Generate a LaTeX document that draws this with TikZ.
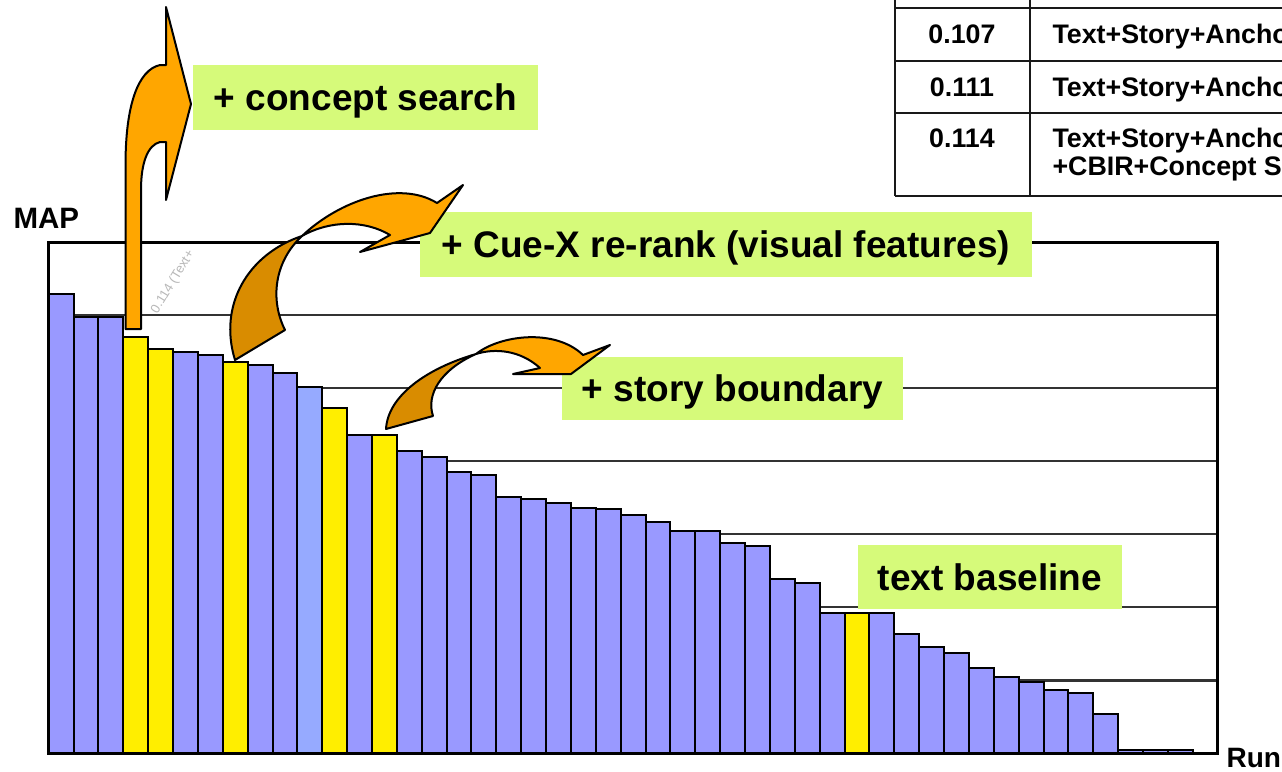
\documentclass[tikz,border=0pt]{standalone}
\usepackage{fontspec}
\setmainfont{Liberation Sans}
\definecolor{barB}{RGB}{153,153,255}
\definecolor{barL}{RGB}{150,170,255}
\definecolor{barY}{RGB}{255,238,0}
\definecolor{labelgreen}{RGB}{214,250,122}
\definecolor{arrowlight}{RGB}{255,166,0}
\definecolor{arrowdark}{RGB}{217,140,0}
\begin{document}
\begin{tikzpicture}[x=1pt,y=-1pt,
  barbox/.style={draw=black, line width=2pt},
  gridrule/.style={draw=black!80, line width=2.2pt},
  framerule/.style={draw=black, line width=3pt},
  tablerule/.style={draw=black!90, line width=2.5pt},
  labelbox/.style={fill=labelgreen, inner sep=0pt, text height=26.5pt, text depth=0pt,
    font=\bfseries\fontsize{37}{40}\selectfont},
  curvearrow/.style={draw=black, line width=2pt, line join=round},
  tabletext/.style={anchor=base, font=\bfseries\fontsize{26.8}{29}\selectfont},
  axistext/.style={anchor=base west, font=\bfseries\fontsize{29.5}{32}\selectfont}
]
% page area
\fill[white] (0,0) rectangle (1282,771);
\clip (0,0) rectangle (1282,771);

% horizontal grid of the chart
\foreach \k in {1,...,6}{
  \pgfmathsetmacro\gy{242+73.07*\k}
  \draw[gridrule] (48.5,\gy) -- (1217,\gy);
}

% faint rotated data label
\node[rotate=58.6, text=black!28, font=\fontsize{13}{13}\selectfont, inner sep=0pt] (faintlabel) at (173,282) {0.114 (Text+};

% bars: index / top edge / fill
\foreach \i/\t/\c in {0/294/barB,1/317/barB,2/317/barB,3/337/barY,4/349/barY,5/352/barB,
  6/355/barB,7/362/barY,8/365/barB,9/373/barB,10/387/barL,11/408/barY,12/435/barB,
  13/435/barY,14/451/barB,15/457/barB,16/472/barB,17/475/barB,18/497/barB,19/499/barB,
  20/503/barB,21/508/barB,22/509/barB,23/515/barB,24/522/barB,25/531/barB,26/531/barB,
  27/543/barB,28/546/barB,29/579/barB,30/583/barB,31/613/barB,32/613/barY,33/613/barB,
  34/634/barB,35/647/barB,36/653/barB,37/668/barB,38/677/barB,39/682/barB,40/690/barB,
  41/693/barB,42/714/barB,43/750/barB,44/750/barB,45/750/barB}{
  \pgfmathsetmacro\xl{48.7+24.87*\i}
  \pgfmathsetmacro\xr{\xl+24.87}
  \draw[barbox, fill=\c] (\xl,753.5) rectangle (\xr,\t);
}

% chart frame
\draw[framerule] (48.5,242) rectangle (1217,753.5);

% axis captions
\node[axistext] (maplabel) at (10,228) {MAP};
\node[axistext, font=\bfseries\fontsize{28}{30}\selectfont] (runlabel) at (1223,767) {Run};

% results table (top right)
\draw[tablerule] (895,-2) -- (895,196);
\draw[tablerule] (1030,-2) -- (1030,196);
\draw[tablerule] (895,8) -- (1290,8);
\draw[tablerule] (895,61) -- (1290,61);
\draw[tablerule] (895,113) -- (1290,113);
\draw[tablerule] (895,196) -- (1290,196);
\node[tabletext] (mapa) at (962,43.5) {0.107};
\node[tabletext] (mapb) at (962,96) {0.111};
\node[tabletext] (mapc) at (962,147.6) {0.114};
\node[tabletext, anchor=base west] (runa) at (1049,43.5) {Text+Story+Anchor};
\node[tabletext, anchor=base west] (runb) at (1049,96) {Text+Story+Anchor};
\node[tabletext, anchor=base west] (runc) at (1049,147.6) {Text+Story+Anchor};
\node[tabletext, anchor=base west] (rund) at (1049,175.6) {+CBIR+Concept Search};

% annotation labels
\node[labelbox, minimum width=345pt, minimum height=65pt] (conceptlabel) at (365.5,97.5) {+ concept search};
\node[labelbox, minimum width=612pt, minimum height=65pt] (cuexlabel) at (726,244.5) {+ Cue-X re-rank (visual features)};
\node[labelbox, minimum width=341pt, minimum height=63pt] (storylabel) at (732.5,388.5) {+ story boundary};
\node[labelbox, minimum width=264pt, minimum height=64pt] (baselinelabel) at (990,577) {text baseline};

% rising arrow to the concept search label
\draw[curvearrow, fill=arrowlight]
  (125.5,329) -- (125.5,165) .. controls (125.5,105) and (138,70) .. (160,65)
  -- (166,65) -- (166,7) -- (191,104) -- (166,200) -- (166,142) -- (160,142)
  .. controls (148,145) and (141,162) .. (141,190) -- (141,329) -- cycle;

% twisted arrow to the Cue-X label
\draw[curvearrow, fill=arrowdark]
  (302,236) .. controls (248,254) and (218,305) .. (235,360) -- (285,330)
  .. controls (270,300) and (274,262) .. (302,236) -- cycle;
\draw[curvearrow, fill=arrowlight]
  (302,236) .. controls (340,200) and (400,180) .. (437,203) -- (463,185)
  -- (430,233) -- (360,252) -- (390,235)
  .. controls (365,220) and (330,220) .. (302,236) -- cycle;

% twisted arrow to the story boundary label
\draw[curvearrow, fill=arrowdark]
  (476,354) .. controls (428,368) and (388,395) .. (386,429) -- (433,416)
  .. controls (426,395) and (440,370) .. (476,354) -- cycle;
\draw[curvearrow, fill=arrowlight]
  (476,354) .. controls (500,335) and (555,328) .. (583,355) -- (610,345)
  -- (571,374) -- (513,374) -- (540,368)
  .. controls (520,350) and (495,348) .. (476,354) -- cycle;
\end{tikzpicture}
\end{document}
